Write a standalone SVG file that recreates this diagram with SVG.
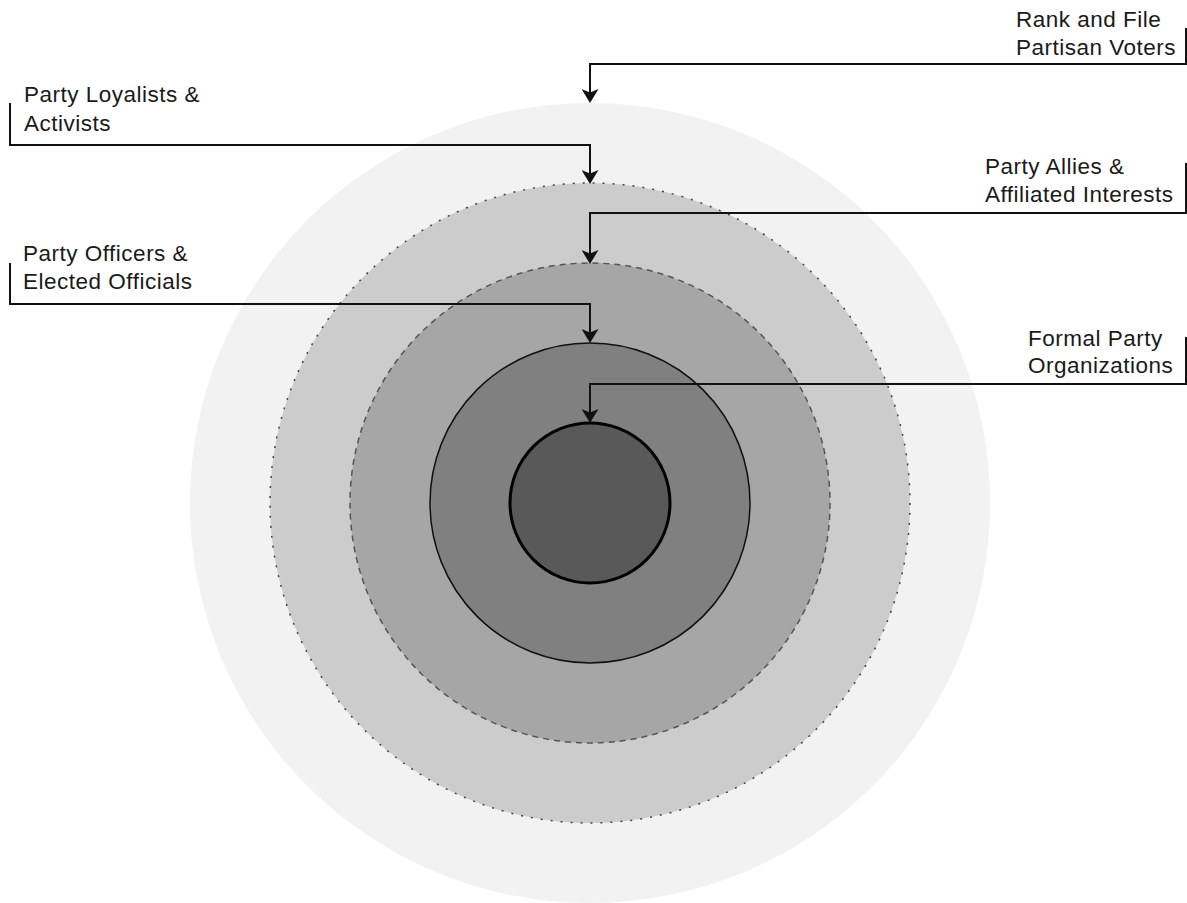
<svg xmlns="http://www.w3.org/2000/svg" width="1187" height="903" viewBox="0 0 1187 903">
  <style>
    .lbl { font-family: "Liberation Sans", Arial, Helvetica, sans-serif; font-size: 22.5px; letter-spacing: 0.5px; fill: #1a1a1a; }
    .conn { fill: none; stroke: #111; stroke-width: 2; marker-end: url(#arrow); }
  </style>
  <defs>
    <marker id="arrow" markerUnits="userSpaceOnUse" viewBox="0 0 14 17" markerWidth="14" markerHeight="17" refX="10" refY="8.5" orient="auto">
      <path d="M0,0 L14,8.5 L0,17 L3.5,8.5 Z" fill="#111"/>
    </marker>
  </defs>
  <rect width="1187" height="903" fill="#ffffff"/>
  <g id="ring-rank-and-file">
    <circle cx="590" cy="503" r="400" fill="#f2f2f2"/>
  </g>
  <g id="ring-loyalists">
    <circle cx="590" cy="503" r="320" fill="#cccccc" stroke="#444" stroke-width="1.5" stroke-dasharray="2 8"/>
  </g>
  <g id="ring-allies">
    <circle cx="590" cy="503" r="240" fill="#a6a6a6" stroke="#555" stroke-width="1.5" stroke-dasharray="6 5"/>
  </g>
  <g id="ring-officers">
    <circle cx="590" cy="503" r="160" fill="#808080" stroke="#111" stroke-width="1.5"/>
  </g>
  <g id="ring-formal">
    <circle cx="590" cy="503" r="80" fill="#595959" stroke="#000" stroke-width="3"/>
  </g>
  <g id="connectors">
    <path class="conn" d="M1186,28 V64 H590 V99"/>
    <path class="conn" d="M10,103 V145 H590 V180"/>
    <path class="conn" d="M1186,163 V213 H590 V260"/>
    <path class="conn" d="M10,263 V304 H590 V339"/>
    <path class="conn" d="M1186,337 V384 H590 V419"/>
  </g>
  <g id="label-rank-and-file">
    <text class="lbl" x="1016" y="27">Rank and File</text>
    <text class="lbl" x="1016" y="55">Partisan Voters</text>
  </g>
  <g id="label-loyalists">
    <text class="lbl" x="24" y="102">Party Loyalists &amp;</text>
    <text class="lbl" x="24" y="131">Activists</text>
  </g>
  <g id="label-allies">
    <text class="lbl" x="985" y="174">Party Allies &amp;</text>
    <text class="lbl" x="985" y="202">Affiliated Interests</text>
  </g>
  <g id="label-officers">
    <text class="lbl" x="23" y="261">Party Officers &amp;</text>
    <text class="lbl" x="23" y="289">Elected Officials</text>
  </g>
  <g id="label-formal">
    <text class="lbl" x="1028" y="346">Formal Party</text>
    <text class="lbl" x="1028" y="373">Organizations</text>
  </g>
</svg>
